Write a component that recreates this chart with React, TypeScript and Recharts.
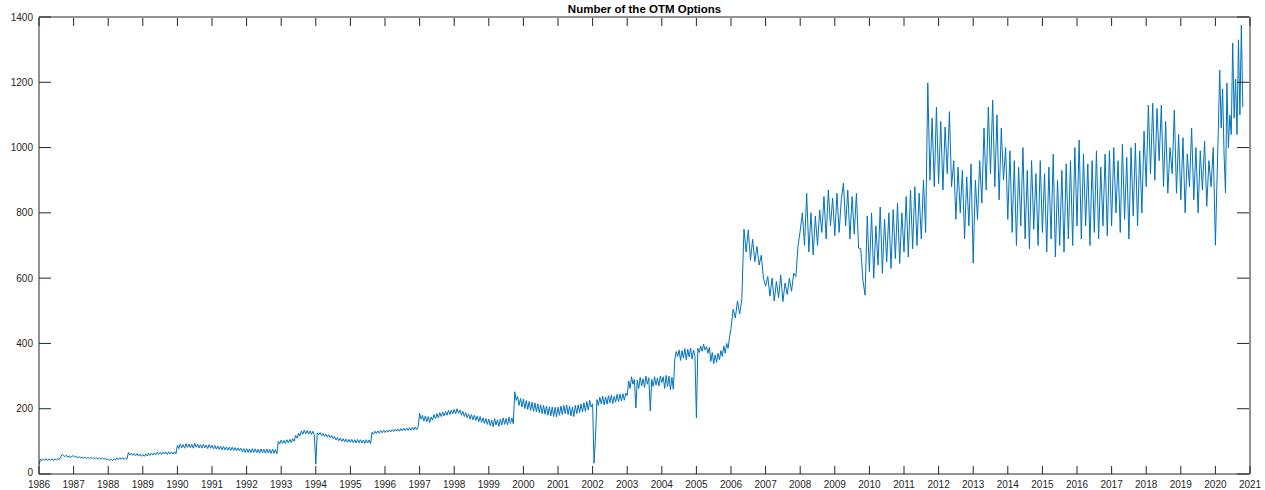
import { LineChart, Line, XAxis, YAxis } from "recharts";

const yearTicks = [
  1986, 1987, 1988, 1989, 1990, 1991, 1992, 1993, 1994, 1995, 1996, 1997,
  1998, 1999, 2000, 2001, 2002, 2003, 2004, 2005, 2006, 2007, 2008, 2009,
  2010, 2011, 2012, 2013, 2014, 2015, 2016, 2017, 2018, 2019, 2020, 2021,
];
const countTicks = [0, 200, 400, 600, 800, 1000, 1200, 1400];

// 1986-2005: half-monthly readings (24 per year)
const y1986 = [28, 46, 41, 46, 42, 47, 41, 46, 42, 47, 41, 46, 43, 47, 44, 52, 60, 57, 53, 58, 51, 56, 50, 55];
const y1987 = [56, 51, 54, 50, 53, 49, 52, 48, 52, 48, 51, 47, 51, 47, 50, 46, 50, 46, 49, 45, 49, 45, 48, 44];
const y1988 = [46, 42, 45, 41, 47, 43, 49, 44, 50, 45, 50, 45, 49, 45, 66, 58, 64, 57, 63, 56, 62, 55, 61, 54];
const y1989 = [60, 54, 61, 55, 63, 57, 64, 58, 65, 59, 66, 60, 66, 60, 67, 61, 67, 60, 68, 61, 67, 61, 68, 62];
const y1990 = [88, 78, 92, 80, 90, 79, 93, 81, 92, 80, 91, 79, 94, 82, 92, 80, 90, 79, 91, 80, 89, 78, 90, 79];
const y1991 = [88, 77, 87, 76, 86, 75, 85, 74, 84, 74, 83, 73, 82, 72, 82, 72, 81, 71, 80, 71, 79, 68, 78, 66];
const y1992 = [78, 66, 77, 65, 78, 66, 77, 65, 76, 64, 77, 65, 76, 64, 77, 64, 76, 63, 76, 63, 75, 62, 100, 92];
const y1993 = [104, 94, 103, 93, 105, 95, 106, 96, 108, 100, 118, 110, 125, 116, 132, 122, 134, 123, 133, 122, 132, 121, 131, 120];
const y1994 = [30, 126, 120, 127, 118, 124, 115, 122, 113, 120, 111, 118, 108, 115, 104, 112, 102, 110, 100, 108, 98, 107, 97, 106];
const y1995 = [97, 106, 96, 105, 95, 106, 96, 105, 95, 104, 94, 105, 95, 104, 93, 128, 122, 131, 124, 132, 125, 133, 126, 134];
const y1996 = [127, 134, 128, 135, 129, 136, 130, 137, 131, 138, 131, 139, 132, 140, 133, 141, 134, 142, 134, 143, 135, 144, 136, 145];
const y1997 = [186, 168, 180, 162, 178, 160, 176, 158, 175, 165, 182, 170, 185, 172, 188, 176, 190, 178, 192, 180, 195, 182, 196, 184];
const y1998 = [198, 184, 200, 186, 196, 180, 192, 176, 188, 172, 184, 168, 182, 166, 180, 164, 178, 160, 176, 158, 172, 155, 170, 152];
const y1999 = [168, 148, 165, 145, 170, 150, 166, 146, 168, 150, 172, 152, 170, 150, 174, 155, 172, 154, 252, 225, 238, 210, 232, 205];
const y2000 = [230, 200, 225, 198, 222, 195, 220, 192, 218, 190, 215, 188, 212, 185, 210, 183, 208, 180, 206, 178, 205, 176, 204, 175];
const y2001 = [205, 180, 208, 182, 210, 185, 212, 182, 208, 178, 205, 176, 210, 185, 212, 188, 215, 190, 218, 192, 222, 196, 226, 205];
const y2002 = [215, 33, 110, 228, 210, 235, 215, 238, 212, 236, 214, 240, 218, 242, 216, 238, 220, 244, 222, 245, 224, 246, 226, 248];
const y2003 = [240, 285, 262, 298, 275, 290, 202, 288, 262, 296, 270, 292, 265, 300, 275, 295, 193, 290, 268, 298, 272, 294, 270, 300];
const y2004 = [280, 298, 262, 302, 268, 300, 258, 296, 260, 350, 375, 360, 380, 348, 378, 355, 384, 350, 382, 358, 386, 352, 380, 360];
const y2005 = [172, 385, 372, 392, 376, 398, 380, 390, 370, 388, 345, 372, 338, 365, 342, 370, 350, 378, 360, 392, 370, 400, 385, 420];

// 2006-2019: readings every 3/4 month (16 per year)
const y2006 = [445, 505, 478, 530, 490, 535, 750, 680, 748, 655, 719, 650, 697, 640, 670, 600];
const y2007 = [575, 605, 545, 600, 530, 590, 540, 610, 528, 585, 550, 600, 560, 615, 605, 700];
const y2008 = [745, 800, 700, 860, 680, 800, 671, 790, 700, 809, 740, 850, 720, 870, 760, 845];
const y2009 = [730, 860, 740, 840, 891, 760, 870, 720, 850, 735, 860, 692, 690, 594, 548, 790];
const y2010 = [620, 800, 600, 760, 640, 818, 615, 780, 650, 800, 630, 810, 660, 830, 645, 800];
const y2011 = [680, 850, 665, 870, 690, 880, 700, 860, 720, 900, 740, 1198, 900, 1090, 880, 1124];
const y2012 = [890, 1080, 870, 1063, 920, 1110, 880, 960, 780, 940, 800, 930, 720, 910, 760, 950];
const y2013 = [646, 900, 780, 960, 830, 1060, 870, 1124, 920, 1145, 880, 1100, 840, 1060, 900, 1000];
const y2014 = [780, 990, 740, 960, 700, 940, 760, 1000, 720, 930, 690, 960, 750, 920, 700, 960];
const y2015 = [740, 920, 680, 940, 720, 980, 665, 900, 700, 930, 680, 950, 720, 960, 700, 1000];
const y2016 = [760, 1023, 720, 980, 760, 950, 700, 960, 740, 990, 720, 940, 760, 980, 730, 990];
const y2017 = [760, 1000, 800, 960, 740, 1010, 780, 970, 720, 1000, 790, 1014, 760, 990, 800, 1050];
const y2018 = [880, 1130, 920, 1136, 900, 1120, 960, 1130, 880, 1080, 860, 1000, 920, 1115, 860, 1040];
const y2019 = [840, 1030, 800, 980, 880, 1060, 840, 1000, 800, 990, 870, 1020, 820, 960, 880, 1000];

// 2020: half-monthly readings up to October
const y2020 = [701, 880, 1050, 1237, 1060, 1180, 980, 861, 1198, 1000, 1100, 1040, 1320, 1090, 1210, 1040, 1330, 1100, 1375, 1124];

const yearly: [number, number[], number][] = [
  [1986, y1986, 24], [1987, y1987, 24], [1988, y1988, 24], [1989, y1989, 24], [1990, y1990, 24],
  [1991, y1991, 24], [1992, y1992, 24], [1993, y1993, 24], [1994, y1994, 24], [1995, y1995, 24],
  [1996, y1996, 24], [1997, y1997, 24], [1998, y1998, 24], [1999, y1999, 24], [2000, y2000, 24],
  [2001, y2001, 24], [2002, y2002, 24], [2003, y2003, 24], [2004, y2004, 24], [2005, y2005, 24],
  [2006, y2006, 16], [2007, y2007, 16], [2008, y2008, 16], [2009, y2009, 16], [2010, y2010, 16],
  [2011, y2011, 16], [2012, y2012, 16], [2013, y2013, 16], [2014, y2014, 16], [2015, y2015, 16],
  [2016, y2016, 16], [2017, y2017, 16], [2018, y2018, 16], [2019, y2019, 16], [2020, y2020, 24],
];

const rows = yearly.flatMap(([year, vals, perYear]) =>
  vals.map((v, i) => ({ t: year + i / perYear, n: v }))
);

const AXIS = "#262626";
const FONT = "'Liberation Sans', Arial, Helvetica, sans-serif";

interface TickProps {
  x?: number;
  y?: number;
  payload?: { value: number };
}

const BottomTick = (props: TickProps) => {
  const { x = 0, y = 0, payload } = props;
  return (
    <g>
      <line x1={x} y1={y} x2={x} y2={y - 8} stroke={AXIS} strokeWidth={1} />
      <text x={x} y={y + 13.5} textAnchor="middle" fontSize={10} fontFamily={FONT} fill={AXIS}>
        {payload?.value}
      </text>
    </g>
  );
};

const LeftTick = (props: TickProps) => {
  const { x = 0, y = 0, payload } = props;
  // the "0" label sits a touch higher so it clears the first year label
  const dy = payload?.value === 0 ? 1.5 : 3.5;
  return (
    <g>
      <line x1={x} y1={y} x2={x + 12} y2={y} stroke={AXIS} strokeWidth={1} />
      <text x={x - 6} y={y + dy} textAnchor="end" fontSize={10} fontFamily={FONT} fill={AXIS}>
        {payload?.value}
      </text>
    </g>
  );
};

const TopTick = (props: TickProps) => {
  const { x = 0, y = 0 } = props;
  return <line x1={x} y1={y + 1} x2={x} y2={y + 9} stroke={AXIS} strokeWidth={1} />;
};

const RightTick = (props: TickProps) => {
  const { x = 0, y = 0 } = props;
  return <line x1={x - 1} y1={y} x2={x - 13} y2={y} stroke={AXIS} strokeWidth={1} />;
};

export default function App() {
  return (
    <div style={{ position: "absolute", left: 0, top: 0, width: 1265, height: 490, background: "#fff" }}>
      <div
        style={{
          position: "absolute",
          left: 39,
          width: 1211,
          top: 3,
          textAlign: "center",
          fontFamily: FONT,
          fontWeight: 700,
          fontSize: 11.5,
          lineHeight: "12px",
          color: "#000",
        }}
      >
        Number of the OTM Options
      </div>
      <LineChart width={1265} height={490} data={rows} margin={{ top: 16, right: 14, left: 0, bottom: 0 }}>
        <XAxis
          dataKey="t"
          type="number"
          domain={[1986, 2021]}
          ticks={yearTicks}
          allowDataOverflow
          height={16}
          tickSize={0}
          tickMargin={0}
          tickLine={false}
          axisLine={{ stroke: AXIS }}
          tick={<BottomTick />}
          interval={0}
        />
        <XAxis
          xAxisId="top"
          orientation="top"
          dataKey="t"
          type="number"
          domain={[1986, 2021]}
          ticks={yearTicks}
          allowDataOverflow
          height={1}
          tickSize={0}
          tickMargin={0}
          tickLine={false}
          axisLine={{ stroke: AXIS }}
          tick={<TopTick />}
          interval={0}
        />
        <YAxis
          type="number"
          domain={[0, 1400]}
          ticks={countTicks}
          allowDataOverflow
          width={39}
          tickSize={0}
          tickMargin={0}
          tickLine={false}
          axisLine={{ stroke: AXIS }}
          tick={<LeftTick />}
          interval={0}
        />
        <YAxis
          yAxisId="right"
          orientation="right"
          type="number"
          domain={[0, 1400]}
          ticks={countTicks}
          allowDataOverflow
          width={1}
          tickSize={0}
          tickMargin={0}
          tickLine={false}
          axisLine={{ stroke: AXIS }}
          tick={<RightTick />}
          interval={0}
        />
        <Line
          xAxisId="top"
          yAxisId="right"
          dataKey="n"
          stroke="none"
          dot={false}
          activeDot={false}
          legendType="none"
          isAnimationActive={false}
        />
        <Line
          dataKey="n"
          type="linear"
          stroke="#0072BD"
          strokeWidth={1}
          dot={false}
          activeDot={false}
          isAnimationActive={false}
        />
      </LineChart>
    </div>
  );
}
